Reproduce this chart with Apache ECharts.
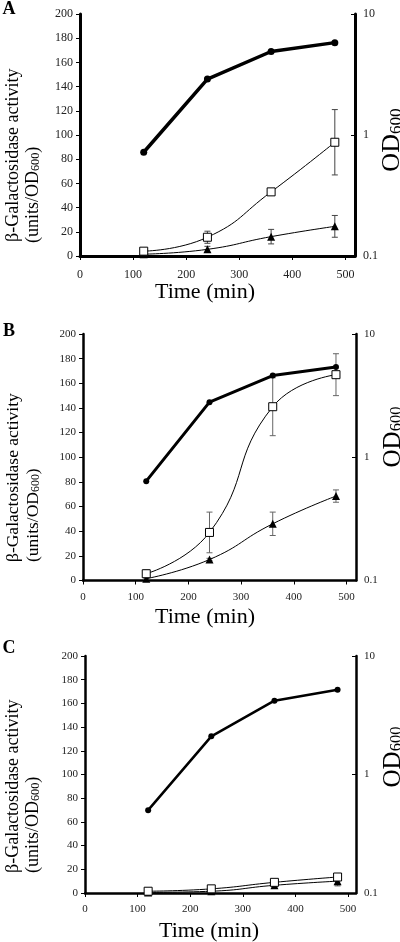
<!DOCTYPE html>
<html><head><meta charset="utf-8">
<script src="https://cdn.jsdelivr.net/npm/echarts@6/dist/echarts.min.js"></script>
<style>html,body{margin:0;padding:0;background:#fff}#c{width:400px;height:942px}</style>
</head><body><div id="c"></div>
<script>
// ---- data ----
const time = [120, 240, 360, 480];
const xTicks = [0, 100, 200, 300, 400, 500];
const leftTicks = [0, 20, 40, 60, 80, 100, 120, 140, 160, 180, 200];
const rightTicks = [0.1, 1, 10];
const panelLetters = ['A', 'B', 'C'];

// Panel A
const odA = [0.72, 2.9, 4.9, 5.8];
const sqA = [4, 15.5, 53, 94];
const sqErrA = [1, 5, 1.5, 27];
const triA = [1.5, 5.5, 16, 24.5];
const triErrA = [0.5, 2.5, 6, 9];
// Panel B
const odB = [0.64, 2.8, 4.6, 5.4];
const sqB = [5.5, 39, 141, 167];
const sqErrB = [3, 16.5, 23.5, 17];
const triB = [1.5, 17, 46, 68.5];
const triErrB = [0.5, 1, 9.5, 5];
// Panel C
const odC = [0.5, 2.1, 4.2, 5.2];
const sqC = [1.5, 3.5, 9, 13.5];
const sqErrC = [0.5, 0.5, 1.5, 1];
const triC = [0.5, 1.5, 6.5, 10];
const triErrC = [0.3, 0.5, 1.5, 4];

const panels = [
  {od: odA, sq: sqA, sqErr: sqErrA, tri: triA, triErr: triErrA},
  {od: odB, sq: sqB, sqErr: sqErrB, tri: triB, triErr: triErrB},
  {od: odC, sq: sqC, sqErr: sqErrC, tri: triC, triErr: triErrC}
];

// ---- layout / style ----
const layout = [
  {left: 80, top: 14, width: 275, height: 242, xMax: 518, aw: 3, odW: 3.5, dot: 7, fs: 12, errC: '#444', xMargin: 13},
  {left: 83, top: 334, width: 273, height: 246.5, xMax: 518, aw: 2.5, odW: 3, dot: 6, fs: 11, errC: '#666', xMargin: 11},
  {left: 85, top: 656, width: 271, height: 237, xMax: 515, aw: 2.5, odW: 2.5, dot: 6, fs: 11, errC: '#555', xMargin: 11}
];
const SERIF = '"Liberation Serif", "DejaVu Serif", serif';

const grid = [], xAxis = [], yAxis = [], series = [];

function errSeries(p, vals, errs, color) {
  return {
    type: 'custom', xAxisIndex: p, yAxisIndex: 2 * p, z: 1, silent: true,
    encode: {x: 0, y: [1, 2]},
    data: time.map((t, i) => [t, Math.max(0, vals[i] - errs[i]), vals[i] + errs[i]]),
    renderItem: function (params, api) {
      const lo = api.coord([api.value(0), api.value(1)]);
      const hi = api.coord([api.value(0), api.value(2)]);
      const w = 3;
      const st = {stroke: color, lineWidth: 1};
      return {type: 'group', children: [
        {type: 'line', shape: {x1: lo[0], y1: lo[1], x2: hi[0], y2: hi[1]}, style: st},
        {type: 'line', shape: {x1: hi[0] - w, y1: hi[1], x2: hi[0] + w, y2: hi[1]}, style: st},
        {type: 'line', shape: {x1: lo[0] - w, y1: lo[1], x2: lo[0] + w, y2: lo[1]}, style: st}
      ]};
    }
  };
}

panels.forEach((d, p) => {
  const L = layout[p];
  grid.push({left: L.left, top: L.top, width: L.width, height: L.height});
  xAxis.push({
    gridIndex: p, type: 'value', min: 0, max: L.xMax, interval: 100,
    axisLine: {show: true, onZero: false, lineStyle: {color: '#000', width: L.aw}},
    axisTick: {show: true, length: 4, customValues: xTicks, lineStyle: {color: '#000', width: 1}},
    axisLabel: {customValues: xTicks, formatter: v => (v % 100 === 0 ? String(v) : ''),
      fontFamily: SERIF, fontSize: L.fs, color: '#222', margin: L.xMargin},
    splitLine: {show: false}
  });
  yAxis.push({
    gridIndex: p, type: 'value', min: 0, max: 200, interval: 20, position: 'left',
    axisLine: {show: true, onZero: false, lineStyle: {color: '#000', width: L.aw}},
    axisTick: {show: true, length: 4, lineStyle: {color: '#000', width: 1}},
    axisLabel: {fontFamily: SERIF, fontSize: L.fs, color: '#222', margin: 7},
    splitLine: {show: false}
  });
  yAxis.push({
    gridIndex: p, type: 'log', logBase: 10, min: 0.1, max: 10, position: 'right',
    axisLine: {show: true, onZero: false, lineStyle: {color: '#000', width: L.aw}},
    axisTick: {show: true, inside: true, length: 4, customValues: rightTicks, lineStyle: {color: '#000', width: 1}},
    axisLabel: {customValues: rightTicks, formatter: v => String(+(+v).toPrecision(2)),
      fontFamily: SERIF, fontSize: L.fs, color: '#222', margin: 8},
    minorTick: {show: false}, splitLine: {show: false}
  });
  series.push(errSeries(p, d.sq, d.sqErr, L.errC));
  series.push(errSeries(p, d.tri, d.triErr, L.errC));
  series.push({
    type: 'line', xAxisIndex: p, yAxisIndex: 2 * p, z: 3, smooth: 0.5,
    data: time.map((t, i) => [t, d.tri[i]]),
    symbol: 'triangle', symbolSize: 8, showSymbol: true,
    lineStyle: {color: '#000', width: 1},
    itemStyle: {color: '#000'}
  });
  series.push({
    type: 'line', xAxisIndex: p, yAxisIndex: 2 * p, z: 4, smooth: 0.5,
    data: time.map((t, i) => [t, d.sq[i]]),
    symbol: 'rect', symbolSize: 8, showSymbol: true,
    lineStyle: {color: '#000', width: 1},
    itemStyle: {color: '#fff', borderColor: '#000', borderWidth: 1}
  });
  series.push({
    type: 'line', xAxisIndex: p, yAxisIndex: 2 * p + 1, z: 5,
    data: time.map((t, i) => [t, d.od[i]]),
    symbol: 'circle', symbolSize: L.dot, showSymbol: true,
    lineStyle: {color: '#000', width: L.odW},
    itemStyle: {color: '#000'}
  });
});

// ---- text decorations ----
const textPos = [
  {letter: [9, 9], l1: [13, 242, 18], l2: [33, 243, 18], od: [392, 140, 26], time: [205, 292, 22]},
  {letter: [9, 331], l1: [13, 562, 17.5], l2: [33, 562, 17.5], od: [393, 437, 25], time: [205, 617, 22]},
  {letter: [9, 648], l1: [13, 873, 18], l2: [33, 873, 18], od: [393, 757, 25], time: [209, 931, 22]}
];
const graphic = [];
textPos.forEach((t, p) => {
  graphic.push({type: 'text', x: t.letter[0], y: t.letter[1],
    style: {text: panelLetters[p], font: 'bold 18px ' + SERIF, fill: '#000', align: 'center', verticalAlign: 'middle'}});
  graphic.push({type: 'text', x: t.l1[0], y: t.l1[1], rotation: Math.PI / 2,
    style: {text: 'β-Galactosidase activity', font: t.l1[2] + 'px ' + SERIF, fill: '#000', align: 'left', verticalAlign: 'middle'}});
  graphic.push({type: 'text', x: t.l2[0], y: t.l2[1], rotation: Math.PI / 2,
    style: {text: '(units/OD{s|600})', fontFamily: SERIF, fontSize: t.l2[2], lineHeight: t.l2[2], fill: '#000', align: 'left', verticalAlign: 'middle',
      rich: {s: {fontFamily: SERIF, fontSize: t.l2[2] * 0.68, lineHeight: 4, verticalAlign: 'bottom', fill: '#000'}}}});
  graphic.push({type: 'text', x: t.od[0], y: t.od[1], rotation: Math.PI / 2,
    style: {text: 'OD{s|600}', fontFamily: SERIF, fontSize: t.od[2], lineHeight: t.od[2], fill: '#000', align: 'center', verticalAlign: 'middle',
      rich: {s: {fontFamily: SERIF, fontSize: t.od[2] * 0.66, lineHeight: 4, verticalAlign: 'bottom', fill: '#000'}}}});
  graphic.push({type: 'text', x: t.time[0], y: t.time[1],
    style: {text: 'Time (min)', font: t.time[2] + 'px ' + SERIF, fill: '#000', align: 'center', verticalAlign: 'middle'}});
});

const chart = echarts.init(document.getElementById('c'), null, {renderer: 'canvas'});
chart.setOption({
  backgroundColor: '#fff', animation: false,
  grid, xAxis, yAxis, series, graphic
});
</script></body></html>
